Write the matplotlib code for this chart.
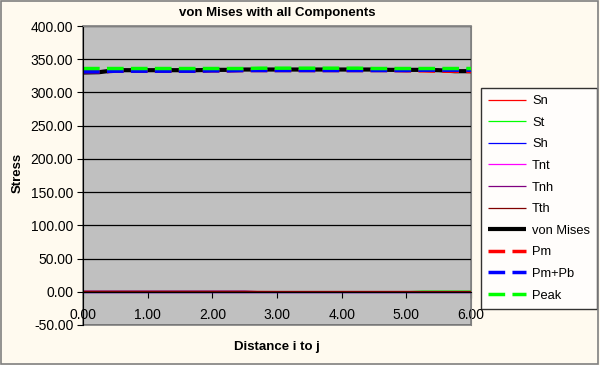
import matplotlib
matplotlib.use("Agg")
import matplotlib.pyplot as plt
from matplotlib.patches import Rectangle

plt.rcParams['font.family'] = ['Liberation Sans', 'DejaVu Sans']

distance = [0.0, 0.25, 0.5, 0.75, 1.0, 1.25, 1.5, 1.75, 2.0, 2.25, 2.5, 2.75, 3.0,
            3.25, 3.5, 3.75, 4.0, 4.25, 4.5, 4.75, 5.0, 5.25, 5.5, 5.75, 6.0]
sn  = [0.5, 0.5, 0.5, 0.5, 0.5, 0.5, 0.5, 0.5, 0.5, 0.5, 0.5, 0.4, 0.3,
       0.3, 0.3, 0.3, 0.3, 0.3, 0.3, 0.3, 0.3, 0.3, 0.3, 0.3, 0.3]
st  = [0.0, 0.0, 0.0, 0.0, 0.0, 0.0, 0.0, 0.0, 0.0, 0.0, 0.0, 0.0, 0.0,
       0.0, 0.0, 0.0, 0.0, 0.0, 0.0, 0.0, 0.0, 1.0, 1.0, 1.0, 1.0]
sh  = [0.2, 0.2, 0.2, 0.2, 0.2, 0.2, 0.2, 0.2, 0.2, 0.2, 0.2, 0.2, 0.2,
       0.2, 0.2, 0.2, 0.2, 0.2, 0.2, 0.2, 0.2, 0.2, 0.2, 0.2, 0.2]
tnt = [0.1, 0.1, 0.1, 0.1, 0.1, 0.1, 0.1, 0.1, 0.1, 0.1, 0.1, 0.1, 0.1,
       0.1, 0.1, 0.1, 0.1, 0.1, 0.1, 0.1, 0.1, 0.1, 0.1, 0.1, 0.1]
tnh = [1.0, 1.0, 1.0, 1.0, 1.0, 1.0, 1.0, 1.0, 1.0, 1.0, 1.0, 0.0, 0.0,
       0.0, 0.0, 0.0, 0.0, 0.0, 0.0, 0.0, 0.0, 0.0, 0.0, 0.0, 0.0]
tth = [0.5, 0.5, 0.5, 0.5, 0.5, 0.5, 0.5, 0.5, 0.5, 0.5, 0.5, 0.5, 0.5,
       0.5, 0.5, 0.5, 0.5, 0.5, 0.5, 0.5, 0.5, 0.5, 0.5, 0.5, 0.5]
von_mises = [330.0, 330.5, 333.5, 333.5, 333.5, 333.5, 333.5, 333.5, 334.0, 334.0, 334.5, 334.5, 334.5,
             334.5, 334.5, 334.5, 334.5, 334.5, 334.5, 334.0, 334.0, 334.0, 333.5, 332.0, 332.0]
pm  = [331.0, 331.0, 332.0, 332.0, 332.0, 332.0, 332.0, 332.0, 332.5, 332.5, 333.0, 333.0, 333.0,
       333.0, 333.0, 333.0, 333.0, 333.0, 333.0, 333.0, 332.5, 332.5, 332.0, 332.0, 331.5]
pm_pb = [331.0, 331.0, 332.0, 332.0, 332.0, 332.0, 332.0, 332.0, 332.5, 332.5, 333.0, 333.0, 333.0,
         333.0, 333.0, 333.0, 333.0, 333.0, 333.0, 333.0, 333.0, 333.5, 333.5, 333.5, 333.5]
peak = [336.0, 336.0, 336.0, 336.0, 336.0, 336.0, 336.0, 336.0, 336.0, 336.0, 336.0, 336.5, 336.5,
        336.5, 336.5, 336.5, 336.5, 336.5, 336.0, 336.0, 336.0, 336.0, 336.0, 336.0, 336.0]

x_ticks = [0, 1, 2, 3, 4, 5, 6]
y_ticks = [-50, 0, 50, 100, 150, 200, 250, 300, 350, 400]

fig = plt.figure(figsize=(6.0, 3.65), dpi=100, facecolor='#FFFAEF')
fig.patches.append(Rectangle((0.001, 0.002), 0.996, 0.995, transform=fig.transFigure,
                             fill=False, edgecolor='#808080', linewidth=1.2))
ax = fig.add_axes([83/600, 40/365, 388/600, 299/365])
ax.set_facecolor('#C0C0C0')

dash = (0, (4.8, 2.1))
series = [
    ('Sn', sn, '#FF0000', '-', 0.9),
    ('St', st, '#00FF00', '-', 0.9),
    ('Sh', sh, '#0000FF', '-', 0.9),
    ('Tnt', tnt, '#FF00FF', '-', 0.9),
    ('Tnh', tnh, '#800080', '-', 0.9),
    ('Tth', tth, '#800000', '-', 0.9),
    ('von Mises', von_mises, '#000000', '-', 3.0),
    ('Pm', pm, '#FF0000', dash, 2.5),
    ('Pm+Pb', pm_pb, '#0000FF', dash, 2.5),
    ('Peak', peak, '#00FF00', dash, 2.5),
]
for name, vals, color, ls, lw in series:
    ax.plot(distance, vals, color=color, linestyle=ls, linewidth=lw, label=name,
            solid_capstyle='butt', dash_capstyle='butt')

ax.set_xlim(0, 6)
ax.set_ylim(-50, 400)
ax.set_xticks(x_ticks)
ax.set_xticklabels([f"{v:.2f}" for v in x_ticks])
ax.set_yticks(y_ticks)
ax.set_yticklabels([f"{v:.2f}" for v in y_ticks])
ax.grid(axis='y', color='black', linewidth=0.9)
ax.set_axisbelow(True)

ax.spines['bottom'].set_position(('data', 0))
ax.spines['bottom'].set_color('black')
ax.spines['left'].set_color('black')
ax.spines['top'].set_color('#808080')
ax.spines['right'].set_color('#808080')
ax.add_patch(Rectangle((0, 0), 1, 1, transform=ax.transAxes, fill=False,
                       edgecolor='#808080', linewidth=1.2, clip_on=False, zorder=0.5))
ax.tick_params(axis='x', direction='out', length=4, pad=8, labelsize=10, colors='black')
ax.tick_params(axis='y', direction='out', length=4, pad=3, labelsize=10, colors='black')

ax.set_title('von Mises with all Components', fontsize=9.5, fontweight='bold', pad=7)
fig.text(18/600, 1 - 173/365, 'Stress', ha='center', va='center', rotation=90,
         fontsize=9.5, fontweight='bold')
fig.text(277/600, 1 - 347/365, 'Distance i to j', ha='center', va='center',
         fontsize=9.5, fontweight='bold')

leg = ax.legend(loc='upper left', bbox_to_anchor=(481/600, 1 - 88/365), bbox_transform=fig.transFigure,
                fontsize=9.3, frameon=True, fancybox=False, edgecolor='black', facecolor='white',
                handlelength=2.9, handletextpad=0.5, labelspacing=0.74, borderpad=0.55,
                borderaxespad=0)
leg.get_frame().set_linewidth(1.0)

fig.savefig('out.png', dpi=100, facecolor=fig.get_facecolor())
